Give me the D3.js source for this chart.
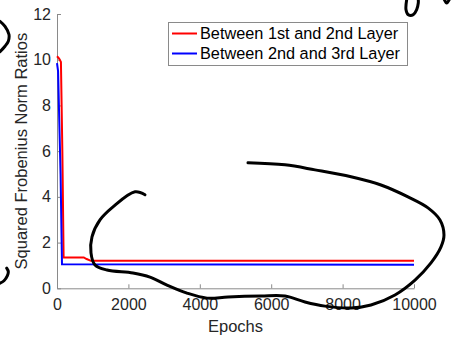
<!DOCTYPE html>
<html>
<head>
<meta charset="utf-8">
<script src="https://cdn.jsdelivr.net/npm/d3@7"></script>
<style>
  body { margin: 0; background: #fff; }
  svg { display: block; font-family: "Liberation Sans", Arial, Helvetica, sans-serif; }
</style>
</head>
<body>
<div id="chart"></div>
<script>
// series: [epoch, ratio]
const redEpochs = [0, 60, 110, 150, 185, 750, 830, 950, 10000];
const redValues = [10.15, 10.05, 9.9, 6, 1.35, 1.35, 1.28, 1.2, 1.2];
const blueEpochs = [0, 30, 100, 140, 10000];
const blueValues = [9.85, 9.5, 5, 1.05, 1.03];

const seriesNames = ["Between 1st and 2nd Layer", "Between 2nd and 3rd Layer"];
const seriesColors = ["#ff0000", "#0000ff"];

const xTicks = [0, 2000, 4000, 6000, 8000, 10000];
const yTicks = [0, 2, 4, 6, 8, 10, 12];

// hand drawn pen strokes over the figure, in [epoch, ratio] units
const inkLoop = [[5350, 5.49], [6386, 5.40], [7227, 5.18], [8235, 4.88], [9075, 4.52], [9832, 4.00],
  [10392, 3.52], [10728, 2.99], [10840, 2.33], [10756, 1.81], [10476, 1.11], [10028, 0.36],
  [9467, -0.29], [8795, -0.73], [8235, -0.86], [7507, -0.78], [6946, -0.60], [6386, -0.34],
  [5714, -0.34], [4790, -0.38], [4202, -0.43], [3641, -0.21], [3081, 0.14], [2605, 0.49],
  [2129, 0.67], [1401, 0.80], [1064, 1.02], [952, 1.55], [980, 2.25], [1204, 2.99],
  [1569, 3.56], [2185, 4.22], [2465, 4.09]];
const inkTopLeft = [[-1597, 11.68], [-1457, 11.46], [-1345, 11.10], [-1364, 10.81], [-1457, 10.59], [-1597, 10.35]];
const inkBottomLeft = [[-1597, 0.22], [-1485, 0.33], [-1392, 0.54], [-1364, 0.73], [-1409, 0.88]];
const inkTopRight = [[9795, 12.63], [9776, 12.19], [9840, 11.97], [9980, 11.97], [10075, 12.19], [10120, 12.48], [10120, 12.63]];
const inkTopRight2 = [[10849, 12.63], [10916, 12.48], [10988, 12.63]];

const W = 456, H = 339;
const M = {left: 57, right: 42, top: 14, bottom: 50.7};

const svg = d3.select("#chart").append("svg")
  .attr("width", W)
  .attr("height", H);

const x = d3.scaleLinear().domain([0, 10000]).range([M.left, W - M.right]);
const y = d3.scaleLinear().domain([0, 12]).range([H - M.bottom, M.top]);

const textColor = "#262626";
const axisColor = "#8a8a8a";

const xAxis = svg.append("g")
  .attr("transform", `translate(0,${H - M.bottom})`)
  .call(d3.axisBottom(x).tickValues(xTicks).tickFormat(d3.format("d")).tickSizeInner(-4).tickSizeOuter(0).tickPadding(10));

const yAxis = svg.append("g")
  .attr("transform", `translate(${M.left},0)`)
  .call(d3.axisLeft(y).tickValues(yTicks).tickSizeInner(-4).tickSizeOuter(0).tickPadding(6));

[xAxis, yAxis].forEach(g => {
  g.select(".domain").attr("stroke", axisColor).attr("stroke-width", 1);
  g.selectAll(".tick line").attr("stroke", axisColor);
  g.selectAll(".tick text").attr("fill", textColor).style("font-size", "16px");
});

svg.append("text")
  .attr("x", (x.range()[0] + x.range()[1]) / 2)
  .attr("y", 332)
  .attr("text-anchor", "middle")
  .attr("fill", textColor)
  .style("font-size", "16.5px")
  .text("Epochs");

svg.append("text")
  .attr("transform", `translate(27,${(y.range()[0] + y.range()[1]) / 2}) rotate(-90)`)
  .attr("text-anchor", "middle")
  .attr("fill", textColor)
  .style("font-size", "16.5px")
  .text("Squared Frobenius Norm Ratios");

const line = d3.line()
  .x(d => x(d[0]))
  .y(d => y(d[1]));

const series = [
  d3.zip(redEpochs, redValues),
  d3.zip(blueEpochs, blueValues)
];

svg.selectAll("path.series")
  .data(series)
  .join("path")
  .attr("class", "series")
  .attr("fill", "none")
  .attr("stroke", (d, i) => seriesColors[i])
  .attr("stroke-width", 2)
  .attr("d", line);

// legend
const legend = svg.append("g");
legend.append("rect")
  .attr("x", 168.5).attr("y", 22.5)
  .attr("width", 239).attr("height", 43)
  .attr("fill", "#fff")
  .attr("stroke", axisColor);

const rows = legend.selectAll("g.row")
  .data(seriesNames)
  .join("g")
  .attr("class", "row")
  .attr("transform", (d, i) => `translate(0,${33.5 + i * 20})`);

rows.append("line")
  .attr("x1", 172).attr("x2", 197)
  .attr("stroke", (d, i) => seriesColors[i])
  .attr("stroke-width", 2);

rows.append("text")
  .attr("x", 200)
  .attr("dy", "0.36em")
  .attr("fill", "#000")
  .style("font-size", "16.3px")
  .text(d => d);

// pen scribbles
const ink = d3.line()
  .x(d => x(d[0]))
  .y(d => y(d[1]))
  .curve(d3.curveCatmullRom.alpha(0.5));

svg.selectAll("path.ink")
  .data([inkLoop, inkTopLeft, inkBottomLeft, inkTopRight, inkTopRight2])
  .join("path")
  .attr("class", "ink")
  .attr("fill", "none")
  .attr("stroke", "#000")
  .attr("stroke-width", 3)
  .attr("stroke-linecap", "round")
  .attr("stroke-linejoin", "round")
  .attr("d", ink);
</script>
</body>
</html>
